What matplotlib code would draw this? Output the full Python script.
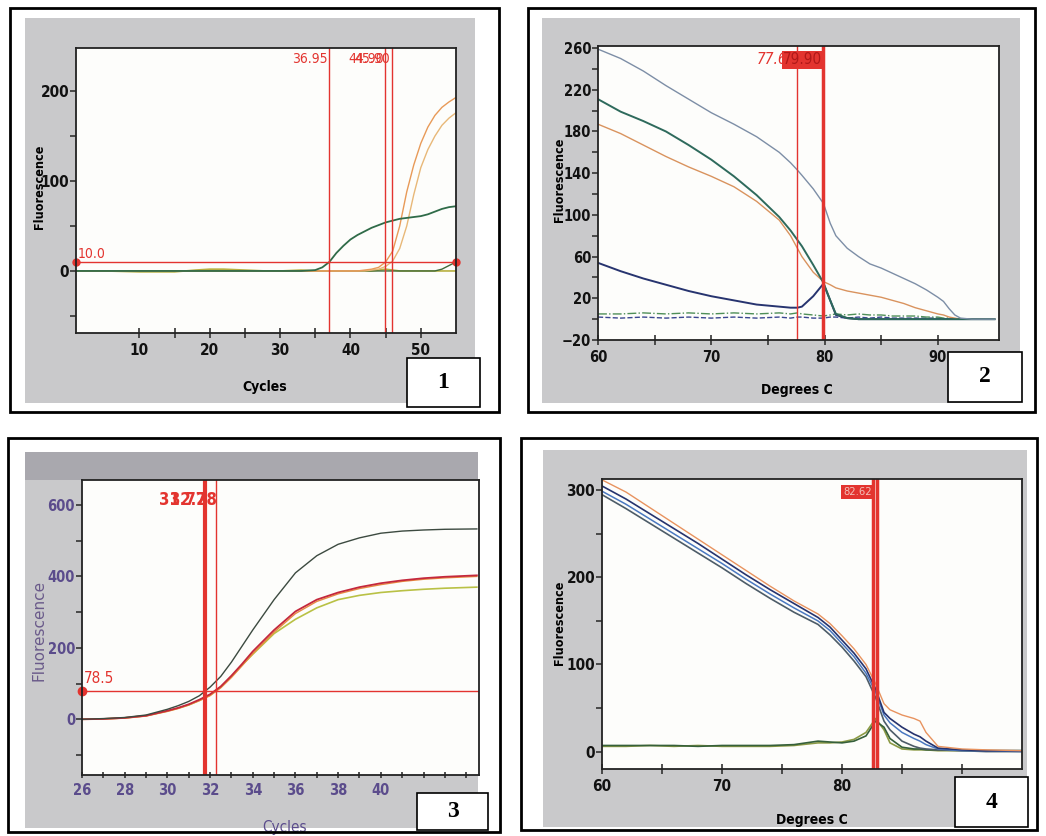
import numpy as np
import matplotlib
matplotlib.use('Agg')
import matplotlib.pyplot as plt
from matplotlib.patches import Rectangle

W, H = 1046, 836
RED = '#e3342f'
GREY = '#c9c9cb'
NARROW = ['Liberation Sans Narrow', 'DejaVu Sans']
SERIF = ['Liberation Serif', 'DejaVu Serif']
COND = dict(family=NARROW, stretch='condensed')

# ---- panel 1: amplification (cycles) ----
cycles1 = [1, 5, 10, 15, 18, 20, 22, 25, 28, 30, 33, 35, 36, 37, 38, 39, 40,
           41, 42, 43, 44, 45, 46, 47, 48, 49, 50, 51, 52, 53, 54, 55]
green1 = [0, 0, 0, 0, 0, 0, 0, 0, 0, 0, 0, 1, 4, 10, 20, 28, 35,
          40, 44, 48, 51, 54, 56, 58, 59, 60, 61, 63, 66, 69, 71, 72]
orange1a = [0, 0, 0, 0, 0, 0, 0, 0, 0, 0, 0, 0, 0, 0, 0, 0, 0,
            0, 1, 2, 4, 10, 22, 50, 88, 118, 142, 160, 173, 182, 188, 193]
orange1b = [0, 0, 0, 0, 0, 0, 0, 0, 0, 0, 0, 0, 0, 0, 0, 0, 0,
            0, 0, 1, 2, 5, 11, 25, 50, 85, 115, 135, 150, 162, 170, 176]
late1 = [0, 0, 0, 0, 0, 0, 0, 0, 0, 0, 0, 0, 0, 0, 0, 0, 0,
         0, 0, 0, 0, 0, 0, 0, 0, 0, 0, 0, 0, 2, 6, 10]
base1 = [0, 0, -1, -1, 1, 2, 2, 1, 0, 0, 1, 0, 0, 0, 0, 0, 0,
         0, 0, 0, 1, 2, 1, 0, 0, 0, 0, 0, 0, 0, 0, 0]
thresh1 = 10.0
ct1 = [36.95, 44.90, 45.90]

# ---- panel 2: melt curve ----
temps2 = [60, 62, 64, 66, 68, 70, 72, 74, 76, 77, 77.6, 78, 79, 79.9, 80.5, 81,
          82, 83, 84, 85, 86, 87, 88, 89, 90, 90.5, 91, 91.5, 92, 93, 95]
top2 = [259, 250, 238, 224, 211, 198, 187, 175, 160, 150, 143, 138, 125, 111, 92, 80,
        68, 60, 53, 49, 44, 39, 34, 28, 21, 17, 10, 4, 1, 0, 0]
green2 = [211, 199, 190, 180, 167, 153, 137, 119, 98, 85, 76, 70, 52, 35, 18, 5,
          1, 0, 0, 0, 0, 0, 0, 0, 0, 0, 0, 0, 0, 0, 0]
orange2 = [187, 178, 167, 156, 146, 137, 127, 113, 95, 80, 68, 60, 45, 36, 33, 30,
           27, 25, 23, 21, 18, 15, 11, 8, 5, 4, 2, 1, 0, 0, 0]
blue2 = [54, 46, 39, 33, 27, 22, 18, 14, 12, 11, 11, 12, 22, 34, 18, 4,
         1, 0, 0, 0, 0, 0, 0, 0, 0, 0, 0, 0, 0, 0, 0]
flat2a = [5, 5, 6, 5, 6, 5, 6, 5, 6, 5, 6, 5, 4, 3, 4, 5,
          4, 5, 4, 4, 3, 3, 3, 2, 2, 1, 1, 0, 0, 0, 0]
flat2b = [2, 1, 2, 1, 2, 1, 2, 1, 2, 1, 2, 2, 1, 1, 2, 2,
          1, 2, 1, 2, 1, 1, 1, 1, 1, 0, 0, 0, 0, 0, 0]
tm2 = [77.60, 79.90]

# ---- panel 3: amplification (cycles) ----
cycles3 = [26, 27, 28, 29, 30, 30.5, 31, 31.5, 32, 32.5, 33, 33.5, 34, 35, 36,
           37, 38, 39, 40, 41, 42, 43, 44.5]
top3 = [0, 2, 5, 12, 28, 38, 50, 66, 90, 120, 160, 205, 250, 335, 410,
        458, 490, 508, 521, 527, 530, 532, 533]
red3 = [0, 1, 4, 10, 24, 32, 42, 55, 70, 92, 122, 155, 190, 250, 302,
        335, 355, 370, 381, 389, 395, 399, 403]
orange3 = [0, 1, 3, 9, 22, 30, 40, 52, 66, 88, 117, 150, 184, 244, 296,
           330, 351, 366, 377, 386, 392, 396, 400]
yellow3 = [0, 1, 4, 10, 23, 31, 40, 53, 68, 90, 120, 152, 182, 240, 280,
           312, 335, 347, 355, 360, 364, 367, 370]
thresh3 = 78.5
ct3 = [31.77, 32.28]

# ---- panel 4: melt curve ----
temps4 = [60, 62, 64, 66, 68, 70, 72, 74, 76, 78, 79, 80, 81, 82, 82.8, 83.5,
          84, 85, 86, 86.5, 87, 88, 90, 92, 95]
orange4 = [312, 298, 280, 262, 244, 226, 208, 190, 173, 158, 147, 133, 118, 100, 78, 55,
           48, 42, 38, 35, 22, 6, 3, 2, 1]
navy4 = [305, 290, 273, 256, 239, 221, 203, 186, 170, 154, 143, 128, 113, 95, 72, 45,
         38, 28, 20, 17, 12, 4, 2, 1, 1]
blue4 = [299, 284, 267, 250, 233, 216, 198, 181, 165, 150, 139, 124, 109, 90, 68, 42,
         33, 22, 15, 12, 8, 3, 1, 1, 0]
grey4 = [295, 279, 262, 245, 228, 211, 193, 176, 160, 146, 134, 120, 104, 86, 62, 35,
         25, 12, 6, 4, 3, 2, 1, 0, 0]
green4 = [7, 7, 7, 7, 6, 7, 7, 7, 8, 12, 11, 10, 12, 18, 35, 28,
          15, 5, 3, 3, 2, 2, 2, 1, 1]
olive4 = [6, 6, 7, 6, 7, 6, 6, 6, 7, 10, 10, 11, 14, 22, 38, 25,
          10, 3, 2, 2, 2, 1, 1, 1, 1]
tm4 = [82.62, 82.95]


def frac(l, t, r, b):
    return [l / W, 1 - b / H, (r - l) / W, (b - t) / H]


def rect(fig, box, fc, ec='none', lw=0, z=-5):
    x, y, w, h = frac(*box)
    fig.add_artist(Rectangle((x, y), w, h, transform=fig.transFigure,
                             facecolor=fc, edgecolor=ec, linewidth=lw, zorder=z))


def panel(fig, frame, grey, axbox, numbox, num):
    rect(fig, frame, 'white', z=-10)
    rect(fig, frame, 'none', ec='black', lw=2, z=10)
    rect(fig, grey, GREY, z=-9)
    rect(fig, numbox, 'white', ec='black', lw=1.2, z=5)
    cx = (numbox[0] + numbox[2]) / 2 / W
    cy = 1 - (numbox[1] + numbox[3]) / 2 / H
    fig.text(cx, cy, num, ha='center', va='center', fontsize=17,
             fontweight='bold', family=SERIF, zorder=6)
    ax = fig.add_axes(frac(*axbox))
    ax.set_facecolor('#fdfdfb')
    for s in ax.spines.values():
        s.set_linewidth(1.3)
        s.set_color('#222222')
    return ax


def place_labels(ax, axbox, xl, yl):
    l, t, r, b = axbox
    ax.xaxis.set_label_coords((xl[0] - l) / (r - l), (b - xl[1]) / (b - t))
    ax.yaxis.set_label_coords((yl[0] - l) / (r - l), (b - yl[1]) / (b - t))


def style_ticks(ax, color='#111111', size=10, weight='bold'):
    ax.tick_params(axis='both', which='both', colors='#333333', labelcolor=color,
                   labelsize=size, width=1.2)
    ax.tick_params(axis='x', which='both', direction='inout', length=7)
    ax.tick_params(axis='y', which='both', direction='out', length=4, pad=1)
    for lab in ax.get_xticklabels() + ax.get_yticklabels():
        lab.set_family(NARROW)
        lab.set_stretch('condensed')
        lab.set_fontweight(weight)


fig = plt.figure(figsize=(W / 100, H / 100), dpi=100)

# ---------------- panel 1 ----------------
ax1box = (76, 48, 456, 333)
ax1 = panel(fig, (10, 8, 499, 412), (25, 18, 475, 403), ax1box, (407, 358, 480, 407), '1')
ax1.plot(cycles1, base1, color='#b8b040', lw=1.2)
ax1.plot(cycles1, late1, color='#3f6a3a', lw=1.0)
ax1.plot(cycles1, orange1b, color='#e8b878', lw=1.0)
ax1.plot(cycles1, orange1a, color='#e89a58', lw=1.0)
ax1.plot(cycles1, green1, color='#2f6b48', lw=1.3)
ax1.axhline(thresh1, color=RED, lw=1.0)
ax1.plot([cycles1[0], cycles1[-1]], [thresh1, thresh1], 'o', color=RED, ms=5, clip_on=False)
ax1.text(cycles1[0] + 0.3, thresh1 + 4, f'{thresh1:.1f}', color=RED, fontsize=10, **COND)
for c in ct1:
    ax1.axvline(c, color=RED, lw=1.0)
    ax1.text(c - 0.2, 243, f'{c:.2f}', color=RED, fontsize=10, ha='right', va='top', **COND)
ax1.set_xlim(cycles1[0], cycles1[-1])
ax1.set_ylim(-69, 248)
ax1.set_xticks([10, 20, 30, 40, 50])
ax1.set_xticks([15, 25, 35, 45], minor=True)
ax1.set_yticks([0, 100, 200])
ax1.set_yticks([-50, 50, 150], minor=True)
style_ticks(ax1, size=11)
ax1.set_xlabel('Cycles', fontsize=10, fontweight='bold', **COND)
ax1.set_ylabel('Fluorescence', fontsize=9, fontweight='bold', **COND)
place_labels(ax1, ax1box, (265, 380), (46, 187))

# ---------------- panel 2 ----------------
ax2box = (598, 46, 999, 340)
ax2 = panel(fig, (528, 8, 1035, 412), (542, 18, 1020, 403), ax2box, (948, 352, 1022, 402), '2')
ax2.plot(temps2, flat2b, color='#3a4690', lw=1.0, ls='--')
ax2.plot(temps2, flat2a, color='#4f8f58', lw=1.0, ls='-.')
ax2.plot(temps2, blue2, color='#27346f', lw=1.4)
ax2.plot(temps2, orange2, color='#d9935e', lw=1.0)
ax2.plot(temps2, green2, color='#2e6a5c', lw=1.4)
ax2.plot(temps2, top2, color='#7d8ea6', lw=1.0)
ax2.axvline(tm2[0], color=RED, lw=1.0)
ax2.axvline(tm2[1], color=RED, lw=2.5)
ax2.text(tm2[0] - 0.1, 256, f'{tm2[0]:.2f}', color=RED, fontsize=11,
         ha='right', va='top', style='italic', **COND)
ax2.text(tm2[1] - 0.1, 256, f'{tm2[1]:.2f}', color='#b01818', fontsize=11,
         ha='right', va='top', bbox=dict(boxstyle='square,pad=0.1', fc=RED, ec='none'), **COND)
ax2.set_xlim(60, 95.4)
ax2.set_ylim(-20, 262)
ax2.set_xticks([60, 70, 80, 90])
ax2.set_xticks([65, 75, 85], minor=True)
ax2.set_yticks([-20, 20, 60, 100, 140, 180, 220, 260])
ax2.set_yticks([0, 40, 80, 120, 160, 200, 240], minor=True)
style_ticks(ax2, size=10.5)
ax2.set_xlabel('Degrees C', fontsize=10, fontweight='bold', **COND)
ax2.set_ylabel('Fluorescence', fontsize=9, fontweight='bold', **COND)
place_labels(ax2, ax2box, (797, 383), (566, 180))

# ---------------- panel 3 ----------------
ax3box = (82, 480, 479, 775)
ax3 = panel(fig, (8, 438, 500, 832), (25, 452, 478, 828), ax3box, (417, 793, 488, 830), '3')
rect(fig, (25, 452, 478, 480), '#a9a8ae', z=-8)
ax3.plot(cycles3, yellow3, color='#b9c145', lw=1.2)
ax3.plot(cycles3, orange3, color='#e88a40', lw=1.0)
ax3.plot(cycles3, red3, color='#c4283c', lw=1.3)
ax3.plot(cycles3, top3, color='#3c4a40', lw=1.0)
ax3.axhline(thresh3, color=RED, lw=1.0)
ax3.plot([cycles3[0]], [thresh3], 'o', color=RED, ms=6, clip_on=False)
ax3.text(cycles3[0] + 0.1, thresh3 + 22, f'{thresh3:.1f}', color=RED, fontsize=11, **COND)
ax3.axvline(ct3[0], color=RED, lw=3.0)
ax3.axvline(ct3[1], color=RED, lw=1.0)
for c in ct3:
    ax3.text(c + 0.05, 640, f'{c:.2f}', color=RED, fontsize=12, fontweight='bold',
             ha='right', va='top', **COND)
ax3.set_xlim(26, 44.6)
ax3.set_ylim(-156, 670)
ax3.set_xticks([26, 28, 30, 32, 34, 36, 38, 40])
ax3.set_xticks(np.arange(27, 45, 1), minor=True)
ax3.set_yticks([0, 200, 400, 600])
ax3.set_yticks([-100, 100, 300, 500], minor=True)
style_ticks(ax3, color='#5b4c8c', size=10.5)
ax3.tick_params(axis='x', which='both', direction='inout', length=5)
ax3.set_xlabel('Cycles', fontsize=11, color='#5b4c8c', **COND)
ax3.set_ylabel('Fluorescence', fontsize=11, color='#6a5a8a')
place_labels(ax3, ax3box, (285, 820), (47, 630))

# ---------------- panel 4 ----------------
ax4box = (602, 479, 1022, 769)
ax4 = panel(fig, (521, 438, 1037, 830), (543, 450, 1027, 827), ax4box, (955, 777, 1028, 827), '4')
ax4.plot(temps4, olive4, color='#8c9a45', lw=1.2)
ax4.plot(temps4, green4, color='#36603a', lw=1.2)
ax4.plot(temps4, grey4, color='#4d5c68', lw=1.2)
ax4.plot(temps4, blue4, color='#4a78c0', lw=1.1)
ax4.plot(temps4, navy4, color='#26336e', lw=1.2)
ax4.plot(temps4, orange4, color='#e8935f', lw=1.0)
for t in tm4:
    ax4.axvline(t, color=RED, lw=2.5)
ax4.text(tm4[0] - 0.15, 304, f'{tm4[0]:.2f}', color='#f3c0b8', fontsize=8,
         ha='right', va='top', bbox=dict(boxstyle='square,pad=0.2', fc=RED, ec='none'), **COND)
ax4.set_xlim(60, 95)
ax4.set_ylim(-20, 313)
ax4.set_xticks([60, 70, 80])
ax4.set_xticks([65, 75, 85, 90], minor=True)
ax4.set_yticks([0, 100, 200, 300])
ax4.set_yticks([50, 150, 250], minor=True)
style_ticks(ax4, size=11)
ax4.set_xlabel('Degrees C', fontsize=10, fontweight='bold', **COND)
ax4.set_ylabel('Fluorescence', fontsize=9, fontweight='bold', **COND)
place_labels(ax4, ax4box, (812, 813), (566, 623))

fig.savefig('out.png', dpi=100)
